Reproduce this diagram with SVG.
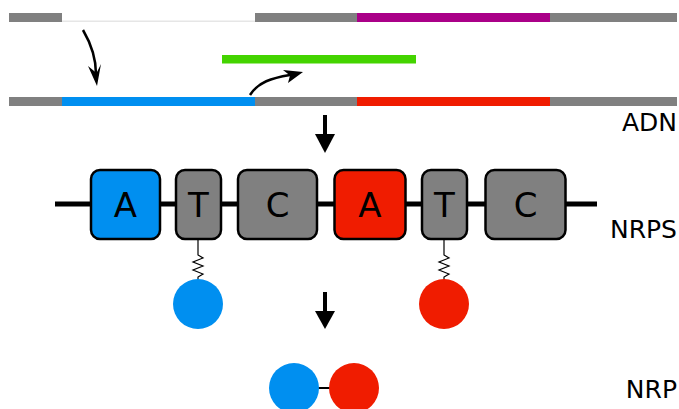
<svg xmlns="http://www.w3.org/2000/svg" width="679" height="409" viewBox="0 0 679 409">
<style>
.lbl{font-family:"DejaVu Sans","Liberation Sans",sans-serif;font-size:25px;fill:#000}
.dom{stroke:#000;stroke-width:2.5}
.dt{font-family:"DejaVu Sans","Liberation Sans",sans-serif;font-size:34px;fill:#000;text-anchor:middle}
.gray{fill:#808080}
.zig{fill:none;stroke:#000;stroke-width:1.2}
</style>
<rect width="679" height="409" fill="#fff"/>
<g id="dna-top">
<rect class="gray" x="9" y="13" width="53" height="9"/>
<rect x="62" y="20.5" width="193" height="1.5" fill="#e6e6e6"/>
<rect class="gray" x="255" y="13" width="102" height="9"/>
<rect x="357" y="13" width="193" height="9" fill="#aa0088"/>
<rect class="gray" x="550" y="13" width="127" height="9"/>
</g>
<g id="primer">
<rect x="222" y="55" width="194" height="8.5" fill="#44d400"/>
</g>
<g id="dna-bottom">
<rect class="gray" x="9" y="97" width="53" height="9"/>
<rect x="62" y="97" width="193" height="9" fill="#008ff0"/>
<rect class="gray" x="255" y="97" width="102" height="9"/>
<rect x="357" y="97" width="193" height="9" fill="#f01c00"/>
<rect class="gray" x="550" y="97" width="127" height="9"/>
</g>
<g id="label-adn"><text class="lbl" x="677" y="131" text-anchor="end">ADN</text></g>
<g id="connectors">
<path d="M83,30 C90,42 96,58 96,74" fill="none" stroke="#000" stroke-width="2.5"/>
<path d="M97,86 L88,66 L96.5,73 L101,64 Z" fill="#000"/>
<path d="M250,95 C258,82 272,78 290,75" fill="none" stroke="#000" stroke-width="2.5"/>
<path d="M303,72 L283,70 L290,75.5 L288,83 Z" fill="#000"/>
<path d="M325,115 L325,140" stroke="#000" stroke-width="4"/>
<path d="M315,134 L335,134 L325,153 Z" fill="#000"/>
<path d="M325,292 L325,317" stroke="#000" stroke-width="4"/>
<path d="M315,311 L335,311 L325,329 Z" fill="#000"/>
<path d="M198,240 L198,255 L203,258 L193,262 L203,266 L193,270 L203,274 L198,277 L198,280" class="zig"/>
<path d="M444,240 L444,255 L449,258 L439,262 L449,266 L439,270 L449,274 L444,277 L444,280" class="zig"/>
<path d="M300,388 L350,388" stroke="#000" stroke-width="2"/>
</g>
<g id="nrps-backbone">
<path d="M55,204 L597,204" stroke="#000" stroke-width="5"/>
</g>
<g id="A1"><rect class="dom" x="91" y="170" width="69" height="69" rx="9" fill="#008ff0"/><text class="dt" x="125.5" y="217">A</text></g>
<g id="T1"><rect class="dom" x="176" y="170" width="45" height="69" rx="9" fill="#808080"/><text class="dt" x="198.5" y="217">T</text></g>
<g id="C1"><rect class="dom" x="238" y="170" width="79" height="69" rx="9" fill="#808080"/><text class="dt" x="277.5" y="217">C</text></g>
<g id="A2"><rect class="dom" x="334.5" y="170" width="71" height="69" rx="9" fill="#f01c00"/><text class="dt" x="370" y="217">A</text></g>
<g id="T2"><rect class="dom" x="422" y="170" width="45" height="69" rx="9" fill="#808080"/><text class="dt" x="444.5" y="217">T</text></g>
<g id="C2"><rect class="dom" x="485.5" y="170" width="80" height="69" rx="9" fill="#808080"/><text class="dt" x="525.5" y="217">C</text></g>
<g id="label-nrps"><text class="lbl" x="677" y="238" text-anchor="end">NRPS</text></g>
<g id="aa-blue"><circle cx="198" cy="304" r="25" fill="#008ff0"/></g>
<g id="aa-red"><circle cx="444" cy="304" r="25" fill="#f01c00"/></g>
<g id="nrp-blue"><circle cx="294" cy="388" r="25" fill="#008ff0"/></g>
<g id="nrp-red"><circle cx="354" cy="388" r="25" fill="#f01c00"/></g>
<g id="label-nrp"><text class="lbl" x="677" y="398" text-anchor="end">NRP</text></g>
</svg>
